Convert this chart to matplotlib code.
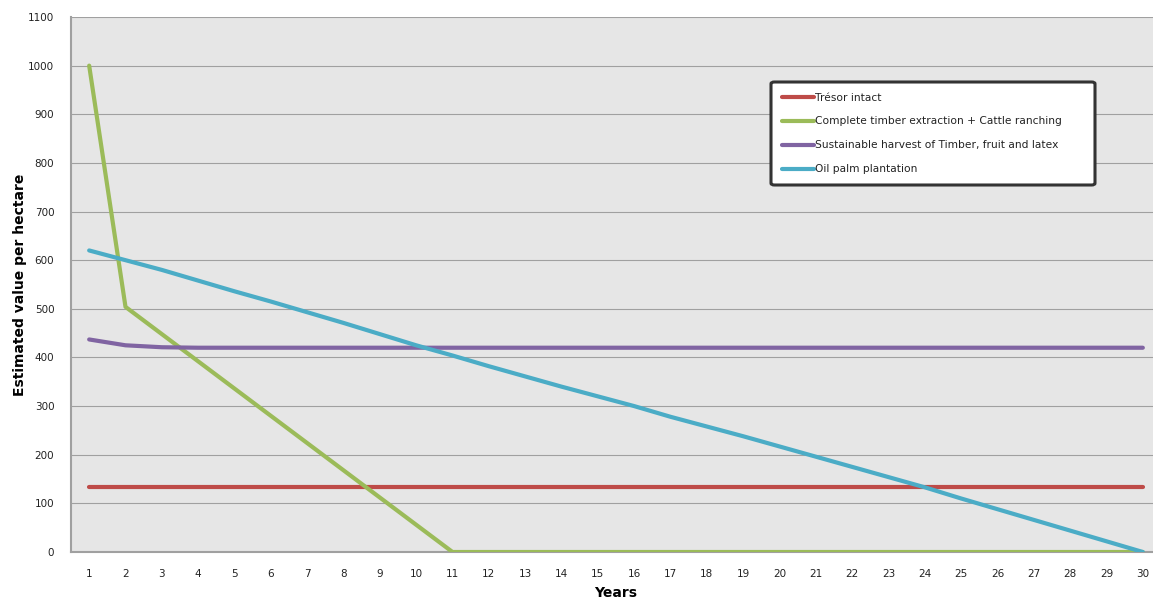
import numpy as np
import matplotlib.pyplot as plt
from matplotlib.patches import FancyBboxPatch

years = list(range(1, 31))
tresor = [133] * 30
timber_cattle = [1000, 504, 448, 392, 336, 280, 224, 168, 112, 56, 0] + [0] * 19
sustainable = [437, 425, 421] + [420] * 27
oil_palm = [620, 600, 580, 558, 536, 515, 493, 471, 448, 425,
            404, 382, 361, 340, 320, 300, 278, 258, 238, 217,
            196, 175, 154, 133, 110, 88, 66, 44, 22, 0]

series = [
    ('Trésor intact', tresor, '#BE4B48'),
    ('Complete timber extraction + Cattle ranching', timber_cattle, '#9BBB59'),
    ('Sustainable harvest of Timber, fruit and latex', sustainable, '#8064A2'),
    ('Oil palm plantation', oil_palm, '#4BACC6'),
]

W, H = 1153, 600
fig = plt.figure(figsize=(W / 100, H / 100), dpi=100)
ax = fig.add_axes([71 / W, 48 / H, 1090 / W, 535 / H])
ax.set_facecolor('#E6E6E6')

for name, vals, col in series:
    ax.plot(years, vals, color=col, lw=3, label=name, solid_capstyle='round', zorder=3)

ax.set_xlim(0.5, 30.5)
ax.set_ylim(0, 1100)
ax.set_yticks(range(0, 1101, 100))
ax.set_xticks(years)
ax.yaxis.grid(True, color='#A0A0A0', lw=0.8)
ax.set_axisbelow(True)
for s in ['top', 'right']:
    ax.spines[s].set_visible(False)
for s in ['left', 'bottom']:
    ax.spines[s].set_color('#A0A0A0')
    ax.spines[s].set_linewidth(1.5)
ax.tick_params(length=0, labelsize=7.5, colors='#222222', pad=12)

ax.set_xlabel('Years', fontsize=10, fontweight='bold', labelpad=5)
ax.set_ylabel('Estimated value per hectare', fontsize=10, fontweight='bold', labelpad=1)

# legend box drawn by hand (Excel style, wide right padding)
box = FancyBboxPatch((771 / W, 1 - 185 / H), 324 / W, 103 / H,
                     boxstyle='round,pad=0,rounding_size=0.003',
                     transform=fig.transFigure, facecolor='white',
                     edgecolor='#333333', lw=2.2, zorder=5, clip_on=False)
ax.add_patch(box)

leg = ax.legend(loc='upper left', bbox_to_anchor=(773 / W, 1 - 84 / H),
                bbox_transform=fig.transFigure, fontsize=7.7,
                frameon=False, handlelength=3.0, handletextpad=0.1,
                labelspacing=1.3, borderpad=0.3)
leg.set_zorder(6)
for t in leg.get_texts():
    t.set_color('#222222')

fig.savefig('out.png', dpi=100)
